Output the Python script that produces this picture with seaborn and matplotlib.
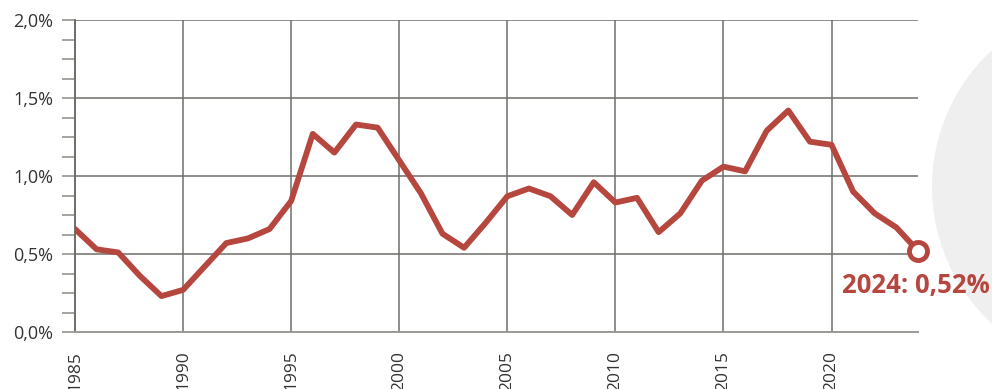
"""Recreate the yearly rate line chart (1985-2024)."""

from __future__ import annotations

import matplotlib
import pandas as pd
import seaborn as sns

matplotlib.use("Agg")
import matplotlib.pyplot as plt
from matplotlib.patches import Ellipse
from matplotlib.ticker import FuncFormatter, MultipleLocator

YEARS = list(range(1985, 2025))
RATES = [
    0.66, 0.53, 0.51, 0.36, 0.23, 0.27, 0.42, 0.57, 0.60, 0.66,
    0.84, 1.27, 1.15, 1.33, 1.31, 1.10, 0.89, 0.63, 0.54, 0.70,
    0.87, 0.92, 0.87, 0.75, 0.96, 0.83, 0.86, 0.64, 0.76, 0.97,
    1.06, 1.03, 1.29, 1.42, 1.22, 1.20, 0.90, 0.76, 0.67, 0.52,
]
X_TICKS = list(range(1985, 2025, 5))
Y_TICKS = [0.0, 0.5, 1.0, 1.5, 2.0]

LINE_COLOR = "#b5473f"
GRID_COLOR = "#6e6e6a"
TEXT_COLOR = "#333333"
FONT = ["Open Sans", "DejaVu Sans"]


def percent_label(value: float, _pos: int) -> str:
    """Format a value as a German-style percentage."""
    return f"{value:.1f}%".replace(".", ",")


def main() -> None:
    """Draw the chart and save it."""
    sns.set_style("white")
    plt.rcParams["font.family"] = FONT

    data = pd.DataFrame({"year": YEARS, "rate": RATES})

    fig = plt.figure(figsize=(9.92, 3.89), dpi=100)
    # light grey disc peeking in from the right edge, behind everything
    fig.patches.append(
        Ellipse(
            (1118 / 992, 1 - 187 / 389),
            width=372 / 992,
            height=372 / 389,
            transform=fig.transFigure,
            facecolor="#efefef",
            edgecolor="none",
            zorder=-1,
        )
    )
    ax = fig.add_axes([75 / 992, 57 / 389, 843 / 992, 312 / 389])
    ax.patch.set_alpha(0)

    sns.lineplot(
        data=data,
        x="year",
        y="rate",
        ax=ax,
        color=LINE_COLOR,
        linewidth=4.2,
        solid_joinstyle="round",
        solid_capstyle="round",
        zorder=3,
    )
    last = data.iloc[-1]
    ax.plot(
        [last["year"]],
        [last["rate"]],
        marker="o",
        markersize=13,
        markerfacecolor="white",
        markeredgecolor=LINE_COLOR,
        markeredgewidth=3.5,
        zorder=4,
        clip_on=False,
    )
    label = f"{int(last['year'])}: {last['rate']:.2f}%".replace(".", ",")
    ax.annotate(
        label,
        xy=(last["year"], last["rate"]),
        xytext=(-55, -30),
        textcoords="offset points",
        ha="left",
        va="baseline",
        fontsize=18.5,
        fontweight="bold",
        color=LINE_COLOR,
        annotation_clip=False,
        zorder=5,
    )

    ax.set_xlim(YEARS[0], YEARS[-1])
    ax.set_ylim(Y_TICKS[0], Y_TICKS[-1])
    ax.set_xticks(X_TICKS)
    ax.set_yticks(Y_TICKS)
    ax.yaxis.set_minor_locator(MultipleLocator(0.125))
    ax.yaxis.set_major_formatter(FuncFormatter(percent_label))

    ax.grid(True, which="major", color=GRID_COLOR, linewidth=1.1)
    ax.tick_params(
        axis="y",
        which="both",
        left=True,
        length=9.5,
        width=1.1,
        color="#8a8a86",
        pad=6,
        labelsize=13,
        labelcolor=TEXT_COLOR,
    )
    ax.tick_params(
        axis="x",
        bottom=False,
        pad=10,
        labelsize=12.5,
        labelcolor=TEXT_COLOR,
        labelrotation=90,
    )
    for label_text in ax.get_xticklabels():
        label_text.set_va("top")

    for side in ["top", "right"]:
        ax.spines[side].set_visible(False)
    ax.spines["left"].set_color(GRID_COLOR)
    ax.spines["left"].set_linewidth(1.4)
    ax.spines["bottom"].set_color("#9a9a96")
    ax.spines["bottom"].set_linewidth(1.4)
    ax.set_xlabel("")
    ax.set_ylabel("")

    fig.savefig("out.png", dpi=100)
    plt.close(fig)


if __name__ == "__main__":
    main()
